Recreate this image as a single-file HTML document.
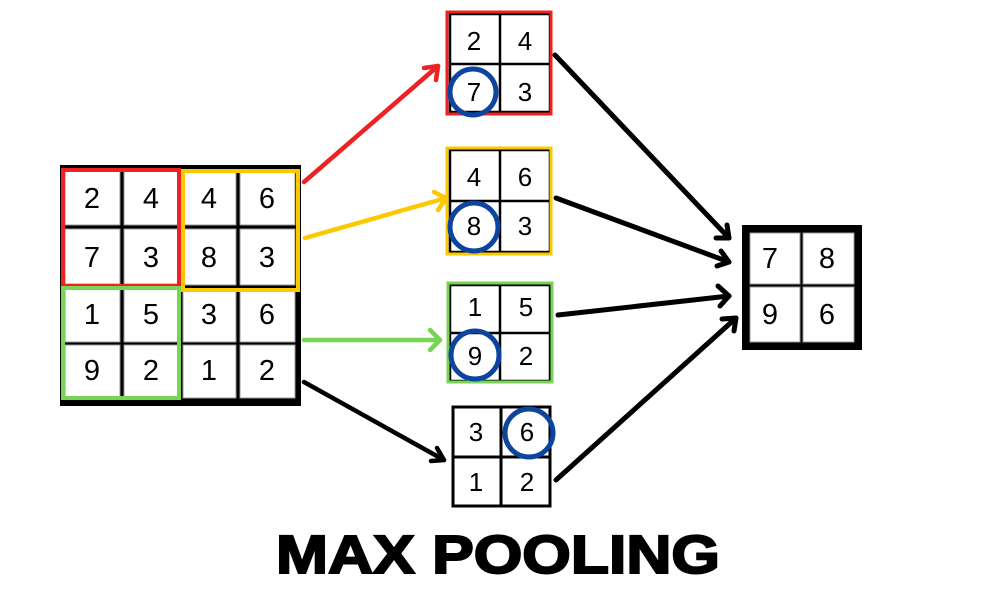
<!DOCTYPE html>
<html><head><meta charset="utf-8"><style>
html,body{margin:0;padding:0;background:#fff;width:1000px;height:600px;overflow:hidden}
svg{display:block}
text{font-family:"Liberation Sans",sans-serif}
.n{font-size:29px;text-anchor:middle;dominant-baseline:central;fill:#000}
.s{font-size:26px;text-anchor:middle;dominant-baseline:central;fill:#000}
</style></head><body>
<svg width="1000" height="600" viewBox="0 0 1000 600" xmlns="http://www.w3.org/2000/svg">
<rect width="1000" height="600" fill="#fff"/>
<rect x="60" y="165" width="241" height="241" fill="#000"/>
<g fill="#fff" stroke="#999" stroke-width="1">
<rect x="65" y="170" width="55" height="55"/><rect x="124" y="170" width="54" height="55"/><rect x="183" y="170" width="53" height="55"/><rect x="240" y="170" width="55" height="55"/>
<rect x="65" y="229" width="55" height="55"/><rect x="124" y="229" width="54" height="55"/><rect x="183" y="229" width="53" height="56"/><rect x="240" y="229" width="55" height="56"/>
<rect x="65" y="289" width="55" height="53"/><rect x="124" y="289" width="54" height="53"/><rect x="183" y="289" width="53" height="53"/><rect x="240" y="289" width="55" height="53"/>
<rect x="65" y="345" width="55" height="53"/><rect x="124" y="345" width="54" height="53"/><rect x="183" y="345" width="53" height="53"/><rect x="240" y="345" width="55" height="53"/>
</g>
<text class="n" x="92" y="199">2</text><text class="n" x="151" y="199">4</text><text class="n" x="209" y="199">4</text><text class="n" x="267" y="199">6</text>
<text class="n" x="92" y="258">7</text><text class="n" x="151" y="258">3</text><text class="n" x="209" y="258">8</text><text class="n" x="267" y="258">3</text>
<text class="n" x="92" y="315">1</text><text class="n" x="151" y="315">5</text><text class="n" x="209" y="315">3</text><text class="n" x="267" y="315">6</text>
<text class="n" x="92" y="371">9</text><text class="n" x="151" y="371">2</text><text class="n" x="209" y="371">1</text><text class="n" x="267" y="371">2</text>
<rect x="63" y="170" width="116" height="116" fill="none" stroke="#ee2222" stroke-width="4"/>
<rect x="183" y="171" width="115" height="119" fill="none" stroke="#fcc800" stroke-width="4"/>
<rect x="63" y="288" width="116" height="110" fill="none" stroke="#77d455" stroke-width="4"/>

<g stroke="#000" stroke-width="2.5" fill="#fff">
<rect x="450" y="14" width="100" height="98"/><line x1="500" y1="14" x2="500" y2="112"/><line x1="450" y1="64" x2="550" y2="64"/>
<rect x="450" y="150" width="100" height="102"/><line x1="500" y1="150" x2="500" y2="252"/><line x1="450" y1="201" x2="550" y2="201"/>
<rect x="450" y="285" width="100" height="96"/><line x1="500" y1="285" x2="500" y2="381"/><line x1="450" y1="333" x2="550" y2="333"/>
<rect x="453" y="407" width="97" height="99" stroke-width="3"/><line x1="501" y1="407" x2="501" y2="506" stroke-width="3"/><line x1="453" y1="457" x2="550" y2="457" stroke-width="3"/>
</g>
<rect x="447" y="12" width="104" height="102" fill="none" stroke="#ee2222" stroke-width="3"/>
<rect x="447" y="148" width="104" height="106" fill="none" stroke="#fcc800" stroke-width="3"/>
<rect x="448" y="283" width="104" height="99" fill="none" stroke="#77d455" stroke-width="3"/>
<text class="s" x="474" y="41">2</text><text class="s" x="525" y="41">4</text>
<text class="s" x="474" y="92">7</text><text class="s" x="525" y="92">3</text>
<text class="s" x="474" y="177">4</text><text class="s" x="525" y="177">6</text>
<text class="s" x="474" y="226">8</text><text class="s" x="525" y="226">3</text>
<text class="s" x="475" y="307">1</text><text class="s" x="526" y="307">5</text>
<text class="s" x="475" y="356">9</text><text class="s" x="526" y="356">2</text>
<text class="s" x="476" y="432">3</text><text class="s" x="527" y="432">6</text>
<text class="s" x="476" y="482">1</text><text class="s" x="527" y="482">2</text>
<g fill="none" stroke="#0c44a0" stroke-width="5">
<circle cx="473" cy="92" r="23"/>
<circle cx="474" cy="227" r="24"/>
<circle cx="475" cy="355" r="24"/>
<circle cx="529" cy="433" r="24"/>
</g>

<rect x="742" y="225" width="120" height="125" fill="#000"/>
<g fill="#fff" stroke="#999" stroke-width="1">
<rect x="750" y="233" width="50" height="51"/><rect x="803" y="233" width="51" height="51"/>
<rect x="750" y="287" width="50" height="55"/><rect x="803" y="287" width="51" height="55"/>
</g>
<text class="n" x="770" y="259">7</text><text class="n" x="827" y="259">8</text>
<text class="n" x="770" y="315">9</text><text class="n" x="827" y="315">6</text>

<g stroke-width="4.5" stroke-linecap="round" fill="none">
<line x1="304" y1="182" x2="438" y2="66" stroke="#ee2222"/>
<path d="M424,68 L438,66 L436,80" stroke="#ee2222" stroke-linejoin="round"/>
<line x1="305" y1="238" x2="446" y2="198" stroke="#fcc800"/>
<path d="M434,192 L446,198 L438,210" stroke="#fcc800" stroke-linejoin="round"/>
<line x1="304" y1="340" x2="440" y2="340" stroke="#77d455"/>
<path d="M430,330 L440,340 L430,350" stroke="#77d455" stroke-linejoin="round"/>
<line x1="304" y1="382" x2="444" y2="460" stroke="#000"/>
<path d="M437,448 L444,460 L431,461" stroke="#000" stroke-linejoin="round"/>
<g stroke="#000" stroke-width="5" stroke-linejoin="round">
<line x1="555" y1="55" x2="729" y2="238"/><path d="M727,225 L729,238 L716,238"/>
<line x1="556" y1="198" x2="729" y2="262"/><path d="M721,251 L729,262 L717,266"/>
<line x1="558" y1="315" x2="729" y2="296"/><path d="M718,286 L729,296 L720,306"/>
<line x1="556" y1="480" x2="736" y2="318"/><path d="M722,319 L736,318 L734,331"/>
</g>
</g>

<text x="498" y="573" text-anchor="middle" font-size="54" font-weight="bold" stroke="#000" stroke-width="2" textLength="444" lengthAdjust="spacingAndGlyphs" fill="#000">MAX POOLING</text>
</svg>
</body></html>
